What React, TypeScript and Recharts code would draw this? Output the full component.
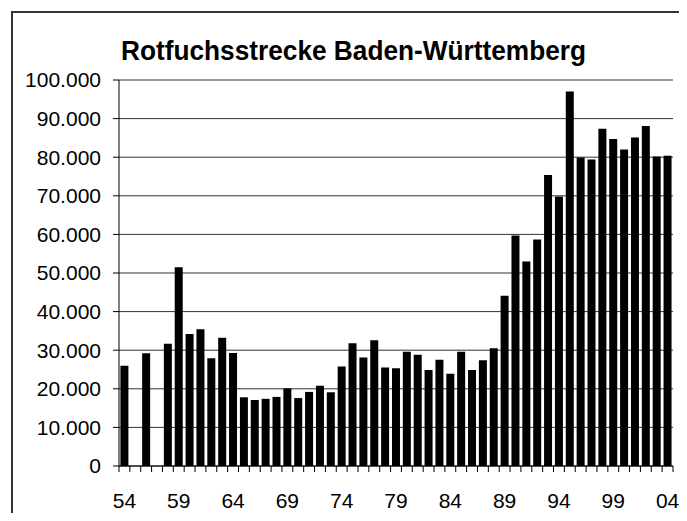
import React from "react";
import { BarChart, Bar, XAxis, YAxis, CartesianGrid } from "recharts";

const TITLE = "Rotfuchsstrecke Baden-Württemberg";

const years = [
  "54", "55", "56", "57", "58", "59", "60", "61", "62", "63",
  "64", "65", "66", "67", "68", "69", "70", "71", "72", "73",
  "74", "75", "76", "77", "78", "79", "80", "81", "82", "83",
  "84", "85", "86", "87", "88", "89", "90", "91", "92", "93",
  "94", "95", "96", "97", "98", "99", "00", "01", "02", "03",
  "04",
];

// Jagdstrecke (Stück); 55 und 57 ohne Angabe
const strecke: (number | null)[] = [
  26000, null, 29200, null, 31700, 51500, 34200, 35400, 27900, 33200,
  29300, 17800, 17100, 17400, 17900, 20100, 17600, 19200, 20800, 19100,
  25800, 31800, 28100, 32600, 25500, 25300, 29600, 28800, 24900, 27500,
  23900, 29600, 24900, 27400, 30500, 44100, 59700, 53000, 58700, 75400,
  69800, 97000, 79900, 79400, 87400, 84700, 82000, 85100, 88100, 80200,
  80400,
];

const yTicks = [0, 10000, 20000, 30000, 40000, 50000, 60000, 70000, 80000, 90000, 100000];

const data = years.map((y, i) => ({ jahr: y, strecke: strecke[i] }));

const W = 671;
const H = 505;
const PLOT_LEFT = 111;
const PLOT_RIGHT = 665;
const PLOT_BOTTOM = 458;
const FONT = "'Liberation Sans', Arial, sans-serif";

const fmt = (v: number) => String(v).replace(/\B(?=(\d{3})+(?!\d))/g, ".");

const YTick = (props: any) => {
  const { x, y, payload } = props;
  return (
    <text x={x} y={y} dy="0.355em" textAnchor="end" fontSize={21} fontFamily={FONT} fill="#000">
      {fmt(payload.value)}
    </text>
  );
};

const XTick = (props: any) => {
  const { x, payload } = props;
  const i = payload.index;
  const band = (PLOT_RIGHT - PLOT_LEFT) / years.length;
  const left = x - band / 2;
  return (
    <g>
      <line x1={left} x2={left} y1={PLOT_BOTTOM} y2={PLOT_BOTTOM + 6} stroke="#000" />
      {i === years.length - 1 && (
        <line x1={x + band / 2} x2={x + band / 2} y1={PLOT_BOTTOM} y2={PLOT_BOTTOM + 6} stroke="#000" />
      )}
      {i % 5 === 0 && (
        <text x={x} y={PLOT_BOTTOM + 35} dy="0.355em" textAnchor="middle" fontSize={21} fontFamily={FONT} fill="#000">
          {payload.value}
        </text>
      )}
    </g>
  );
};

export default function App() {
  return (
    <div style={{ position: "relative", width: W, height: H, overflow: "hidden", background: "#fff" }}>
      <div
        style={{
          position: "absolute",
          left: 3,
          top: 3,
          width: 800,
          height: 700,
          border: "2px solid #333",
          boxSizing: "border-box",
        }}
      />
      <svg width={W} height={70} style={{ position: "absolute", left: 0, top: 0 }}>
        <text
          x={345.5}
          y={52}
          textAnchor="middle"
          fontSize={27}
          fontWeight="bold"
          fontFamily={FONT}
          textLength={465}
          lengthAdjust="spacingAndGlyphs"
          fill="#000"
        >
          {TITLE}
        </text>
      </svg>
      <div style={{ position: "absolute", left: 0, top: 0 }}>
        <BarChart
          width={W}
          height={H}
          data={data}
          margin={{ top: 72, right: 6, bottom: 7, left: 11 }}
          barCategoryGap="13%"
        >
          <CartesianGrid vertical={false} stroke="#333" />
          <XAxis
            dataKey="jahr"
            interval={0}
            height={40}
            axisLine={{ stroke: "#000" }}
            tickLine={false}
            tick={<XTick />}
          />
          <YAxis
            width={100}
            domain={[0, 100000]}
            ticks={yTicks}
            interval={0}
            axisLine={{ stroke: "#000" }}
            tickLine={{ stroke: "#000" }}
            tickSize={6}
            tickMargin={12}
            tick={<YTick />}
          />
          <YAxis
            yAxisId="r"
            orientation="right"
            width={0}
            domain={[0, 100000]}
            tick={false}
            tickLine={false}
            axisLine={{ stroke: "#888" }}
          />
          <Bar dataKey="strecke" fill="#000" isAnimationActive={false} />
        </BarChart>
      </div>
    </div>
  );
}
